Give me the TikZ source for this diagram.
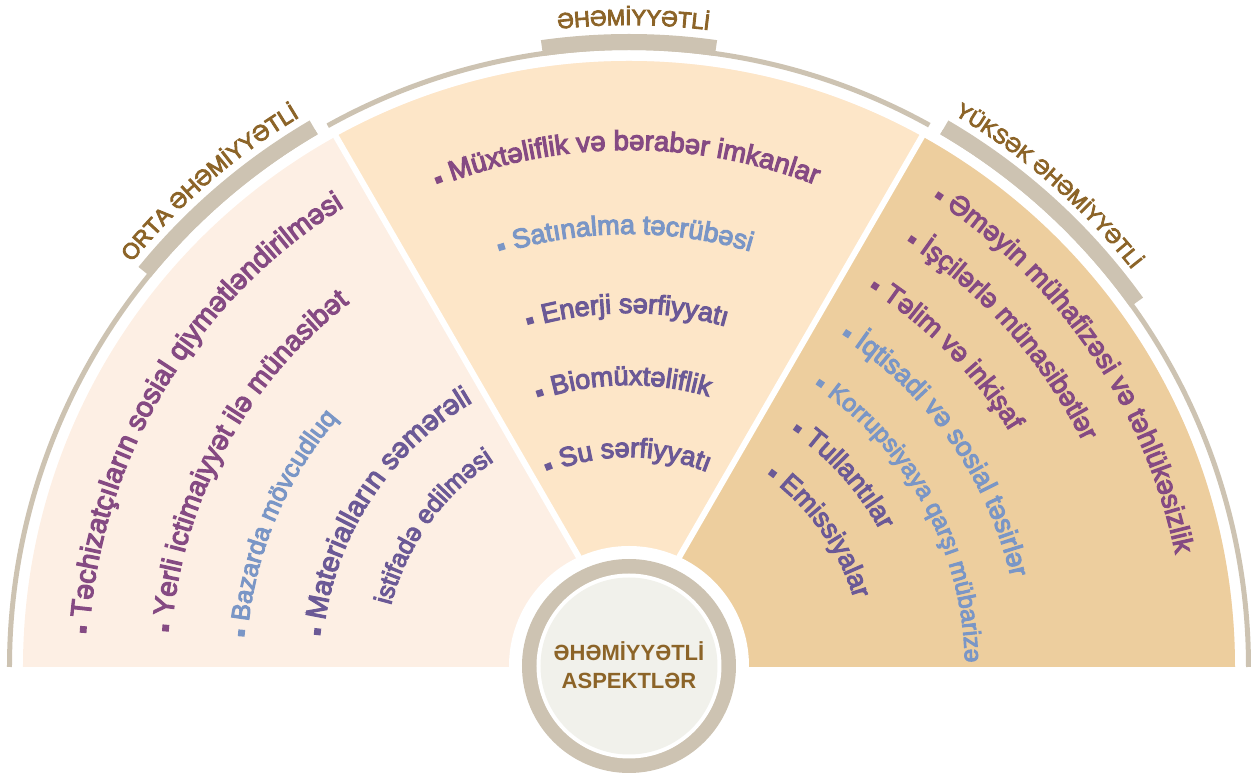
\documentclass[tikz,border=0pt]{standalone}
\usepackage{fontspec}
\setmainfont{Liberation Sans}
\newfontfamily\medfont{Liberation Sans}[FakeBold=4]
\usetikzlibrary{decorations.text}
\definecolor{leftfill}{HTML}{FDEFE4}
\definecolor{midfill}{HTML}{FDE6C8}
\definecolor{rightfill}{HTML}{EDCE9E}
\definecolor{graycol}{HTML}{CDC3B2}
\definecolor{diskfill}{HTML}{F1F1EB}
\definecolor{titlecol}{HTML}{8C6428}
\definecolor{purp}{HTML}{854A83}
\definecolor{blu}{HTML}{7A96C6}
\definecolor{viol}{HTML}{6B5996}
\newcommand{\itemarc}[5][27]{%
  \pgfmathsetmacro{\bang}{#2+12/#3*57.2958}%
  \pgfmathsetmacro{\brad}{#3+6}%
  \pgfmathsetmacro{\brot}{\bang-90}%
  \pgfmathsetmacro{\eang}{#2-75}%
  \fill[#4, shift={(\bang:\brad)}, rotate=\brot] (-3.4,-3.4) rectangle (3.4,3.4);
  \path[decorate, decoration={text along path, text align=left, text color=#4,
    text={|\medfont\fontsize{#1}{30}\selectfont|#5}}]
    (#2:#3) arc[start angle=#2, end angle=\eang, radius=#3];
}
\newcommand{\plainarc}[5][27]{%
  \pgfmathsetmacro{\eang}{#2-75}%
  \path[decorate, decoration={text along path, text align=left, text color=#4,
    text={|\medfont\fontsize{#1}{30}\selectfont|#5}}]
    (#2:#3) arc[start angle=#2, end angle=\eang, radius=#3];
}
\newcommand{\titlearc}[4]{%
  \pgfmathsetmacro{\sang}{#1+40}%
  \pgfmathsetmacro{\eang}{#1-40}%
  \path[decorate, decoration={text along path, text align=center, text color=titlecol,
    text={|\medfont\fontsize{#4}{#4}\selectfont|#3}}]
    (\sang:#2) arc[start angle=\sang, end angle=\eang, radius=#2];
}
\newcommand{\graybar}[2]{%
  \fill[graycol] (#1:617) arc[start angle=#1, end angle=#2, radius=617]
    -- (#2:633) arc[start angle=#2, end angle=#1, radius=633] -- cycle;
}
\begin{document}
\begin{tikzpicture}[x=1pt,y=1pt]
\useasboundingbox (-629,-114) rectangle (622,667);
% sector fills
\begin{scope}
  \clip (-606,0) arc[start angle=180, end angle=0, radius=606] -- cycle;
  \fill[leftfill] (-610,0) rectangle (610,610);
  \fill[midfill] (0,23) -- ++(120:700) -- ++(0:700) -- cycle;
  \fill[rightfill] (0,23) -- ++(60:700) -- (700,629.2) -- (700,0) -- (0,0) -- cycle;
\end{scope}
\draw[white, line width=6] (0,23) -- ++(60:595);
\draw[white, line width=6] (0,23) -- ++(120:595);
% outer thin arc with gaps
\draw[graycol, line width=5] (0:619.5) arc[start angle=0, end angle=59.7, radius=619.5];
\draw[graycol, line width=5] (61:619.5) arc[start angle=61, end angle=119.1, radius=619.5];
\draw[graycol, line width=5] (120.3:619.5) arc[start angle=120.3, end angle=180, radius=619.5];
% thick bars
\graybar{82}{98}
\graybar{120.3}{140.8}
\graybar{35.7}{59.7}
% titles
\titlearc{89.6}{642}{ƏHƏMİYYƏTLİ}{22}
\titlearc{130.9}{641}{ORTA ƏHƏMİYYƏTLİ}{22.5}
\titlearc{48.9}{641}{YÜKSƏK ƏHƏMİYYƏTLİ}{21}
% central circle
\fill[white] (0,1) circle[radius=120];
\fill[graycol] (0,1) circle[radius=107];
\fill[white] (0,1) circle[radius=92.5];
\fill[diskfill] (0,1) circle[radius=88.5];
\node[font=\bfseries\fontsize{22}{28.5}\selectfont, text=titlecol, align=center] (ctr) at (0,2) {ƏHƏMİYYƏTLİ\\ASPEKTLƏR};
% middle items
\itemarc[27.5]{110.0}{517}{purp}{Müxtəliflik və bərabər imkanlar}
\itemarc{105.3}{433}{blu}{Satınalma təcrübəsi}
\itemarc{104.0}{354}{viol}{Enerji sərfiyyatı}
\itemarc{105.6}{282}{viol}{Biomüxtəliflik}
\itemarc{108.6}{210}{viol}{Su sərfiyyatı}
% left items
\itemarc[28.5]{174.8}{541}{purp}{Təchizatçıların sosial qiymətləndirilməsi}
\itemarc[28.2]{173.7}{459}{purp}{Yerli ictimaiyyət ilə münasibət}
\itemarc[25.5]{173.2}{383}{blu}{Bazarda mövcudluq}
\itemarc[28.5]{171.3}{307.5}{viol}{Materialların səmərəli}
\plainarc[25.5]{165.5}{246}{viol}{istifadə edilməsi}
% right items
\itemarc[27.5]{55.4}{558}{purp}{Əməyin mühafizəsi və təhlükəsizlik}
\itemarc{55.1}{506.5}{purp}{İşçilərlə münasibətlər}
\itemarc{55.6}{447.5}{purp}{Təlim və inkişaf}
\itemarc{55.05}{392.3}{blu}{İqtisadi və sosial təsirlər}
\itemarc[24.5]{53.95}{336}{blu}{Korrupsiyaya qarşı mübarizə}
\itemarc{52.3}{285.7}{viol}{Tullantılar}
\itemarc{50.5}{235}{viol}{Emissiyalar}
\end{tikzpicture}
\end{document}
